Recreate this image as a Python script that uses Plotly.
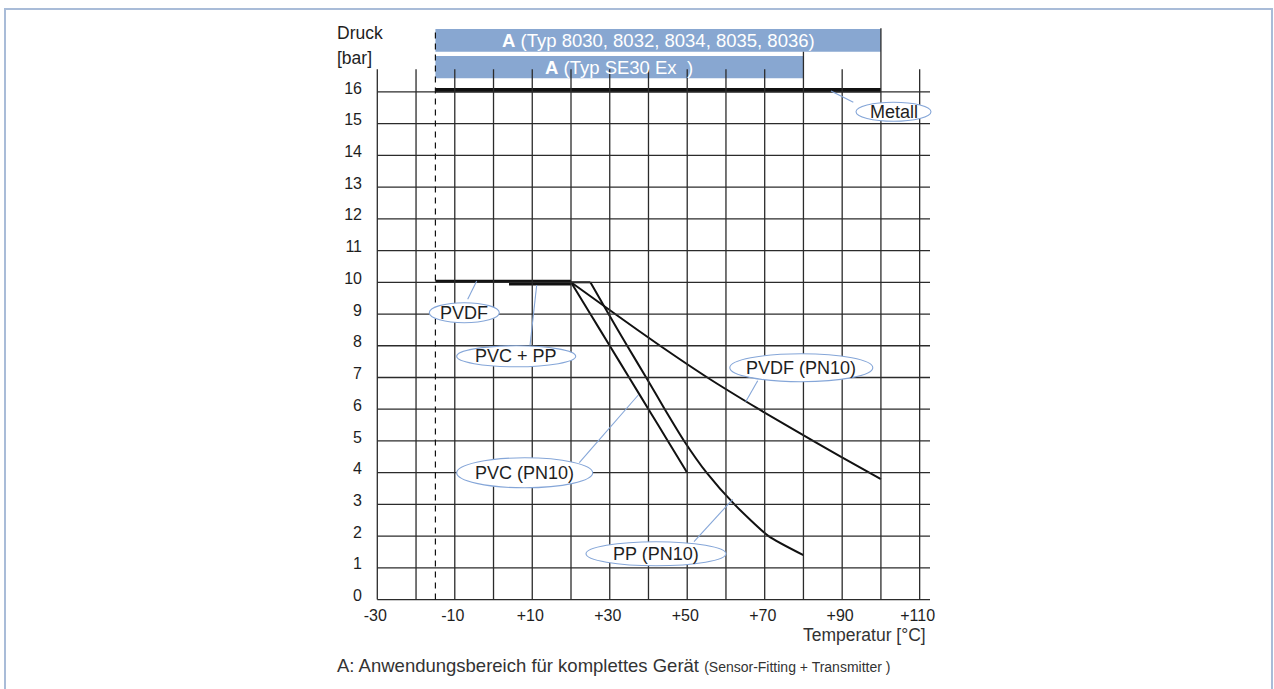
import plotly.graph_objects as go

# ---------------- data ----------------
temp_tick_vals = [-30, -10, 10, 30, 50, 70, 90, 110]
temp_tick_text = ["-30", "-10", "+10", "+30", "+50", "+70", "+90", "+110"]
temp_grid = [-30, -20, -10, 0, 10, 20, 30, 40, 50, 60, 70, 80, 90, 100, 110]
press_ticks = list(range(0, 17))

range_typ_8030 = [-15, 100]   # A (Typ 8030, 8032, 8034, 8035, 8036)
range_typ_se30 = [-15, 80]    # A (Typ SE30 Ex)
limit_temp = -15              # dashed line

metal_T = [-15, 100]
metal_P = [16.05, 16.05]
pvdf_T = [-15, 20]
pvdf_P = [10.03, 10.03]
pvcpp_T = [4, 20]
pvcpp_P = [9.95, 9.95]
pvc_T = [20, 25, 30, 35, 40, 45, 50]
pvc_P = [10, 9, 8, 7, 6, 5, 4]
pp_T = [20, 25, 29.7, 34.5, 39.4, 44.2, 49.2, 55, 62.2, 71, 80]
pp_P = [10, 10, 9, 8, 7, 6, 5, 4, 3, 2, 1.4]
pvdf10_T = [20, 31.4, 43, 55.2, 68.5, 82.5, 97, 100]
pvdf10_P = [10, 9, 8, 7, 6, 5, 4, 3.8]

# ---------------- geometry ----------------
W, H = 1274, 689
X0PX, PPX = 377.3, 3.874     # pixel of -30 degC, px per degC
Y0PX, PPY = 599.6, 31.73     # pixel of 0 bar, px per bar
L, R, T, B = 372, 936, 24, 604

xr = [-30 + (L - X0PX) / PPX, -30 + (R - X0PX) / PPX]
yr = [(Y0PX - B) / PPY, (Y0PX - T) / PPY]


def dx(px):
    return -30 + (px - X0PX) / PPX


def dy(py):
    return (Y0PX - py) / PPY


def pxp(px):
    return (px - L) / (R - L)


def pyp(py):
    return (B - py) / (B - T)


FONT = "Liberation Sans, Arial, Helvetica, sans-serif"
INK = "#1e1e1e"
GRID = "#2b2b2b"
BLUE = "#88a7d1"
LBLUE = "#85a6d8"

fig = go.Figure()

shapes = []
annotations = []

# frame around the whole figure
shapes.append(dict(type="rect", xref="paper", yref="paper",
                   x0=pxp(5), x1=pxp(1272), y0=pyp(720), y1=pyp(9),
                   line=dict(color="#a9bcd8", width=2), fillcolor="rgba(0,0,0,0)", layer="below"))

# application range bars
bar_rows = [(range_typ_8030, dy(51.7), dy(29), "<b>A</b> (Typ 8030, 8032, 8034, 8035, 8036)"),
            (range_typ_se30, dy(78.3), dy(56), "<b>A</b> (Typ SE30 Ex  )")]
for rng, y0, y1, txt in bar_rows:
    shapes.append(dict(type="rect", xref="x", yref="y", x0=rng[0], x1=rng[1], y0=y0, y1=y1,
                       fillcolor=BLUE, line=dict(width=0), layer="below"))
    annotations.append(dict(x=(rng[0] + rng[1]) / 2, y=(y0 + y1) / 2, xref="x", yref="y",
                            text=txt, showarrow=False, xanchor="center", yanchor="middle",
                            font=dict(family=FONT, size=18.5, color="white")))

# horizontal grid lines
grid_right = dx(930)
for p in press_ticks:
    shapes.append(dict(type="line", xref="x", yref="y", x0=-30, x1=grid_right, y0=p, y1=p,
                       line=dict(color=GRID, width=1.3)))

# vertical grid lines
top_default = dy(69.3)
for t in temp_grid:
    top = top_default
    if t == range_typ_se30[1]:
        top = dy(51.7)
    if t == range_typ_8030[1]:
        top = dy(28.3)
    shapes.append(dict(type="line", xref="x", yref="y", x0=t, x1=t, y0=0, y1=top,
                       line=dict(color=GRID, width=1.3)))

# dashed limit line
shapes.append(dict(type="line", xref="x", yref="y", x0=limit_temp, x1=limit_temp, y0=0, y1=dy(28.3),
                   line=dict(color="#111", width=1.2, dash="6px,5px")))

# curves
fig.add_trace(go.Scatter(x=metal_T, y=metal_P, mode="lines", line=dict(color="#111", width=4.5)))
fig.add_trace(go.Scatter(x=pvdf_T, y=pvdf_P, mode="lines", line=dict(color="#111", width=3)))
fig.add_trace(go.Scatter(x=pvcpp_T, y=pvcpp_P, mode="lines", line=dict(color="#111", width=3.2)))
fig.add_trace(go.Scatter(x=pvc_T, y=pvc_P, mode="lines",
                         line=dict(color="#111", width=2, shape="spline", smoothing=0.4)))
# PP: flat part to the knee, then the smooth falling curve
fig.add_trace(go.Scatter(x=pp_T[:2], y=pp_P[:2], mode="lines", line=dict(color="#111", width=2)))
fig.add_trace(go.Scatter(x=pp_T[1:], y=pp_P[1:], mode="lines",
                         line=dict(color="#111", width=2, shape="spline", smoothing=0.55)))
fig.add_trace(go.Scatter(x=pvdf10_T, y=pvdf10_P, mode="lines",
                         line=dict(color="#111", width=2, shape="spline", smoothing=0.6)))

# ellipse labels with callouts: (text, cx, cy, w, h, callout from, callout to)
labels = [
    ("Metall", 893.5, 111.7, 75, 19, (853.3, 102.3), (831, 91)),
    ("PVDF", 464.3, 312.7, 70, 20, (467.7, 299.3), (476.7, 281)),
    ("PVC + PP", 516.2, 356.3, 119, 21, (530, 345.5), (536.7, 285)),
    ("PVDF (PN10)", 801.3, 367.7, 143, 28, (757.7, 380.7), (745.7, 401.7)),
    ("PVC (PN10)", 524.7, 472.8, 136, 30, (579.3, 462.7), (638.3, 395)),
    ("PP (PN10)", 656, 553.8, 140, 24, (694, 541.7), (732.7, 499.3)),
]
for txt, cx, cy, w, h, a, b in labels:
    shapes.append(dict(type="line", xref="paper", yref="paper",
                       x0=pxp(a[0]), y0=pyp(a[1]), x1=pxp(b[0]), y1=pyp(b[1]),
                       line=dict(color=LBLUE, width=1.1)))
    shapes.append(dict(type="circle", xref="paper", yref="paper",
                       x0=pxp(cx - w / 2), x1=pxp(cx + w / 2), y0=pyp(cy + h / 2), y1=pyp(cy - h / 2),
                       fillcolor="white", line=dict(color=LBLUE, width=1.1)))
    annotations.append(dict(x=pxp(cx), y=pyp(cy), xref="paper", yref="paper", text=txt,
                            showarrow=False, xanchor="center", yanchor="middle",
                            font=dict(family=FONT, size=18, color=INK)))

# axis titles and caption
annotations += [
    dict(x=pxp(335), y=pyp(33.3), xref="paper", yref="paper", text="Druck", showarrow=False,
         xanchor="left", yanchor="middle", font=dict(family=FONT, size=17.5, color=INK)),
    dict(x=pxp(335), y=pyp(58.3), xref="paper", yref="paper", text="[bar]", showarrow=False,
         xanchor="left", yanchor="middle", font=dict(family=FONT, size=17.5, color=INK)),
    dict(x=pxp(928), y=pyp(635), xref="paper", yref="paper", text="Temperatur [°C]", showarrow=False,
         xanchor="right", yanchor="middle", font=dict(family=FONT, size=17.5, color="#333")),
    dict(x=pxp(335), y=pyp(665), xref="paper", yref="paper",
         text="A: Anwendungsbereich für komplettes Gerät <span style='font-size:14px'>(Sensor-Fitting + Transmitter )</span>",
         showarrow=False, xanchor="left", yanchor="middle", font=dict(family=FONT, size=18.5, color="#333")),
]

fig.update_layout(
    width=W, height=H,
    margin=dict(l=L, r=W - R, t=T, b=H - B, pad=0),
    plot_bgcolor="white", paper_bgcolor="white",
    showlegend=False,
    shapes=shapes,
    annotations=annotations,
    xaxis=dict(range=xr, tickmode="array", tickvals=temp_tick_vals, ticktext=temp_tick_text,
               showgrid=False, zeroline=False, showline=False, ticks="",
               ticklabelshift=-2,
               tickfont=dict(family=FONT, size=16, color=INK), fixedrange=True),
    yaxis=dict(range=yr, tickmode="array", tickvals=press_ticks,
               showgrid=False, zeroline=False, showline=False, ticks="",
               ticklabelstandoff=9, ticklabelshift=-4,
               tickfont=dict(family=FONT, size=16, color=INK), fixedrange=True),
)

fig.write_html("out.html", config={"displayModeBar": False},
               post_script="document.body.style.margin='0';document.body.style.overflow='hidden';")
